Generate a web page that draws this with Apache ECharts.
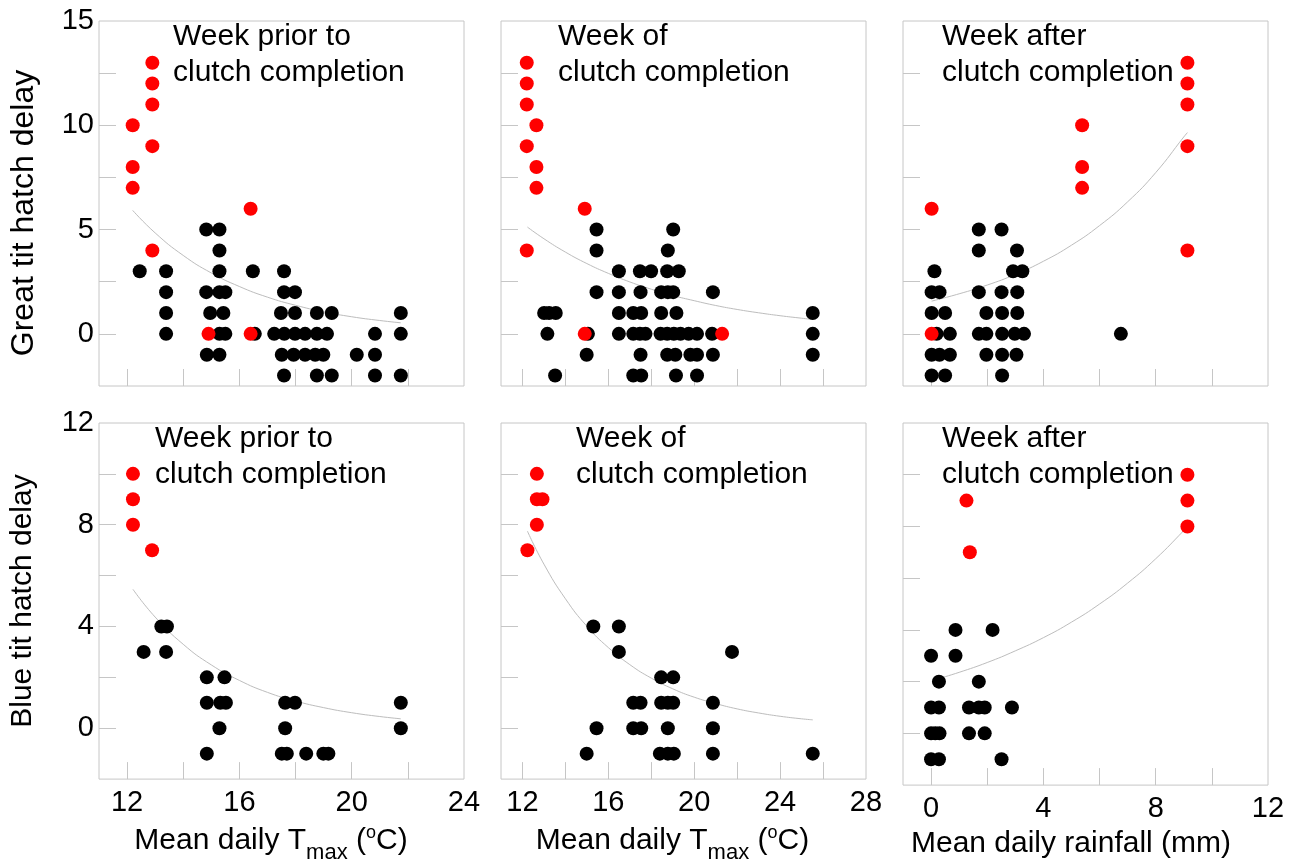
<!DOCTYPE html>
<html><head><meta charset="utf-8">
<script src="https://cdn.jsdelivr.net/npm/echarts@6/dist/echarts.min.js"></script>
<style>html,body{margin:0;padding:0;background:#fff}#c{width:1297px;height:865px}</style>
</head><body><div id="c"></div>
<script>
// ---------- DATA ----------
// Great tit, week prior (x = mean daily Tmax, y = hatch delay)
const gtPriorRed = [[12.9,13],[12.9,12],[12.9,11],[12.2,10],[12.9,9],[12.2,8],[12.2,7],[16.4,6],[12.9,4],[14.9,0],[16.4,0]];
const gtPriorBlack = [
  [14.82,5],[15.29,5],
  [15.29,4],
  [12.45,3],[13.39,3],[15.29,3],[16.48,3],[17.59,3],
  [13.39,2],[14.82,2],[15.29,2],[15.5,2],[17.59,2],[17.98,2],
  [13.39,1],[14.96,1],[15.43,1],[17.48,1],[17.98,1],[18.76,1],[19.29,1],[21.75,1],
  [13.39,0],[15.29,0],[15.5,0],[16.55,0],[17.24,0],[17.6,0],[17.98,0],[18.34,0],[18.76,0],[19.12,0],[20.83,0],[21.75,0],
  [14.84,-1],[15.29,-1],[17.51,-1],[17.93,-1],[18.34,-1],[18.7,-1],[18.99,-1],[20.18,-1],[20.83,-1],
  [17.59,-2],[18.76,-2],[19.29,-2],[20.83,-2],[21.75,-2]
];
const gtPriorFit = [[12.2,5.92],[13,4.84],[14,3.76],[15,2.92],[16,2.27],[17,1.76],[18,1.37],[19,1.06],[20,0.82],[21,0.64],[21.75,0.53]];

// Great tit, week of
const gtOfRed = [[12.2,13],[12.2,12],[12.2,11],[12.65,10],[12.2,9],[12.65,8],[12.65,7],[14.9,6],[12.2,4],[14.9,0],[21.3,0]];
const gtOfBlack = [
  [15.45,5],[19.02,5],
  [15.45,4],[18.77,4],
  [16.49,3],[17.47,3],[17.99,3],[18.74,3],[19.28,3],
  [15.45,2],[16.49,2],[17.5,2],[18.46,2],[18.77,2],[19.02,2],[20.87,2],
  [13.01,1],[13.24,1],[13.55,1],[16.49,1],[17.16,1],[17.53,1],[18.46,1],[19.17,1],[25.52,1],
  [13.16,0],[15.05,0],[16.49,0],[17.16,0],[17.47,0],[17.73,0],[18.43,0],[18.74,0],[19.05,0],[19.36,0],[19.74,0],[20.13,0],[20.83,0],[25.52,0],
  [14.99,-1],[17.5,-1],[18.74,-1],[19.12,-1],[19.82,-1],[20.13,-1],[20.87,-1],[25.52,-1],
  [13.52,-2],[17.16,-2],[17.53,-2],[19.15,-2],[20.13,-2]
];
const gtOfFit = [[12.23,5.12],[13,4.56],[14,3.92],[15,3.37],[16,2.9],[17,2.49],[18,2.14],[19,1.84],[20,1.59],[21,1.36],[22,1.17],[23,1.01],[24,0.87],[25,0.75],[25.52,0.69]];

// Great tit, week after (x = mean daily rainfall)
const gtAfterRed = [[9.13,13],[9.13,12],[9.13,11],[5.38,10],[9.13,9],[5.38,8],[5.38,7],[0.02,6],[9.13,4],[0.02,0]];
const gtAfterBlack = [
  [1.7,5],[2.51,5],
  [1.7,4],[3.06,4],
  [0.12,3],[2.92,3],[3.25,3],
  [0.02,2],[0.3,2],[1.7,2],[2.51,2],[3.07,2],
  [0.02,1],[0.5,1],[1.97,1],[2.53,1],[3.07,1],
  [0.2,0],[0.67,0],[1.7,0],[1.97,0],[2.53,0],[2.98,0],[3.31,0],[6.76,0],
  [0.02,-1],[0.3,-1],[0.67,-1],[1.97,-1],[2.53,-1],[3.04,-1],
  [0.02,-2],[0.5,-2],[2.53,-2]
];
const gtAfterFit = [[0.02,1.57],[1,1.92],[2,2.34],[3,2.85],[4,3.48],[5,4.25],[6,5.19],[7,6.33],[8,7.73],[9,9.44],[9.13,9.65]];

// Blue tit, week prior
const btPriorRed = [[12.21,10],[12.21,9],[12.21,8],[12.89,7]];
const btPriorBlack = [
  [13.22,4],[13.42,4],
  [12.59,3],[13.39,3],
  [14.84,2],[15.47,2],
  [14.84,1],[15.32,1],[15.52,1],[17.63,1],[17.98,1],[21.75,1],
  [15.29,0],[17.63,0],[21.75,0],
  [14.84,-1],[17.51,-1],[17.69,-1],[18.38,-1],[18.99,-1],[19.17,-1]
];
const btPriorFit = [[12.21,5.46],[13,4.37],[14,3.3],[15,2.49],[16,1.88],[17,1.41],[18,1.07],[19,0.81],[20,0.61],[21,0.46],[21.75,0.37]];

// Blue tit, week of
const btOfRed = [[12.67,10],[12.67,9],[12.93,9],[12.67,8],[12.23,7]];
const btOfBlack = [
  [15.3,4],[16.49,4],
  [16.49,3],[21.76,3],
  [18.46,2],[19.02,2],
  [17.16,1],[17.5,1],[18.46,1],[18.77,1],[19.02,1],[20.87,1],
  [15.45,0],[17.16,0],[17.53,0],[18.77,0],[20.87,0],
  [14.99,-1],[18.4,-1],[18.77,-1],[19.05,-1],[20.87,-1],[25.52,-1]
];
const btOfFit = [[12.23,7.75],[13,6.45],[14,5.09],[15,4.01],[16,3.17],[17,2.5],[18,1.97],[19,1.55],[20,1.22],[21,0.97],[22,0.76],[23,0.6],[24,0.47],[25,0.37],[25.52,0.33]];

// Blue tit, week after
const btAfterRed = [[9.13,10],[1.26,9],[9.13,9],[9.13,8],[1.38,7]];
const btAfterBlack = [
  [0.87,4],[2.19,4],
  [0.0,3],[0.87,3],
  [0.28,2],[1.7,2],
  [0.0,1],[0.28,1],[1.35,1],[1.7,1],[1.91,1],[2.88,1],
  [0.0,0],[0.15,0],[0.3,0],[1.35,0],[1.91,0],
  [0.0,-1],[0.28,-1],[2.51,-1]
];
const btAfterFit = [[0.28,2.12],[1,2.36],[2,2.74],[3,3.19],[4,3.7],[5,4.3],[6,5.0],[7,5.81],[8,6.75],[9,7.84],[9.13,8.0]];

// Axis ticks and labels
const tmaxPriorTicks = [12,14,16,18,20,22];
const tmaxPriorLabels = [12,16,20,24];
const tmaxOfTicks = [12,14,16,18,20,22,24,26];
const tmaxOfLabels = [12,16,20,24,28];
const rainTicks = [0,2,4,6,8,10];
const rainLabels = [0,4,8,12];
const gtYTicks = [0,2.5,5,7.5,10,12.5];
const gtYLabels = [0,5,10,15];
const btYTicks = [0,2,4,6,8,10];
const btYLabels = [0,4,8,12];

const panelTitles = ['Week prior to\nclutch completion','Week of\nclutch completion','Week after\nclutch completion'];
const yNames = ['Great tit hatch delay','Blue tit hatch delay'];
const xNames = ['Mean daily T{sub|max} ({sup|o}C)','Mean daily T{sub|max} ({sup|o}C)','Mean daily rainfall (mm)'];

// ---------- BUILD ----------
const FONT = "'Liberation Sans', Arial, Helvetica, sans-serif";
const GRAY = '#c6c6c6';
const colLeft = [99, 501, 903];
const rowTop = [21, 423];
const SIZE = 365;

const xDefs = [
  {min:11, max:24, ticks:tmaxPriorTicks, labels:tmaxPriorLabels, namePad:[0,21,0,0]},
  {min:11, max:28, ticks:tmaxOfTicks, labels:tmaxOfLabels, namePad:[0,22,0,0]},
  {min:-1, max:12, ticks:rainTicks, labels:rainLabels, namePad:[0,29,0,0]}
];
const yDefs = [
  {min:-2.5, max:15, ticks:gtYTicks, labels:gtYLabels, namePad:[0,19,0,0], nameSize:32, nameGap:60},
  {min:-2, max:12, ticks:btYTicks, labels:btYLabels, namePad:[0,0,0,0], nameSize:30, nameGap:61}
];
const panelData = [
  [gtPriorRed, gtPriorBlack, gtPriorFit],
  [gtOfRed, gtOfBlack, gtOfFit],
  [gtAfterRed, gtAfterBlack, gtAfterFit],
  [btPriorRed, btPriorBlack, btPriorFit],
  [btOfRed, btOfBlack, btOfFit],
  [btAfterRed, btAfterBlack, btAfterFit]
];
const titleLeft = [[173,558,942],[155,576,942]];
const titleTop = [19, 421];

const grid = [], xAxis = [], yAxis = [], series = [], title = [];
for (let r = 0; r < 2; r++) {
  for (let c = 0; c < 3; c++) {
    const i = r*3 + c;
    grid.push({left: colLeft[c], top: rowTop[r], width: SIZE, height: SIZE,
      show: true, borderColor: GRAY, borderWidth: 1, containLabel: false});
    const xd = xDefs[c], yd = yDefs[r];
    xAxis.push({
      type: 'value', gridIndex: i, min: xd.min, max: xd.max, position: 'bottom',
      axisLine: {show: false, onZero: false}, splitLine: {show: false},
      axisTick: {show: true, inside: true, length: 17, customValues: xd.ticks, lineStyle: {color: GRAY, width: 1}},
      axisLabel: {show: r === 1, customValues: xd.labels, margin: 9, color: '#000', fontSize: 29, fontFamily: FONT},
      name: r === 1 ? xNames[c] : '', nameLocation: 'middle', nameGap: 37,
      nameTextStyle: {color: '#000', fontSize: 30, fontFamily: FONT, lineHeight: 40, padding: xd.namePad,
        rich: {
          sub: {fontSize: 22, lineHeight: 22, padding: [24,0,0,0], fontFamily: FONT, color: '#000'},
          sup: {fontSize: 18, lineHeight: 18, padding: [0,0,16,0], fontFamily: FONT, color: '#000'}
        }}
    });
    yAxis.push({
      type: 'value', gridIndex: i, min: yd.min, max: yd.max, position: 'left',
      axisLine: {show: false, onZero: false}, splitLine: {show: false},
      axisTick: {show: true, inside: true, length: 17, customValues: yd.ticks, lineStyle: {color: GRAY, width: 1}},
      axisLabel: {show: c === 0, customValues: yd.labels, margin: 5, color: '#000', fontSize: 29, fontFamily: FONT},
      name: c === 0 ? yNames[r] : '', nameLocation: 'middle', nameGap: yd.nameGap,
      nameTextStyle: {color: '#000', fontSize: yd.nameSize, fontFamily: FONT, lineHeight: 30, padding: yd.namePad}
    });
    const [red, black, fit] = panelData[i];
    series.push({type: 'line', xAxisIndex: i, yAxisIndex: i, data: fit, smooth: true, showSymbol: false,
      symbol: 'none', lineStyle: {color: '#bdbdbd', width: 1}, z: 1, silent: true});
    series.push({type: 'scatter', xAxisIndex: i, yAxisIndex: i, data: black, symbol: 'circle', symbolSize: 14,
      itemStyle: {color: '#000', opacity: 1}, z: 2, silent: true});
    series.push({type: 'scatter', xAxisIndex: i, yAxisIndex: i, data: red, symbol: 'circle', symbolSize: 14,
      itemStyle: {color: '#ff0000', opacity: 1}, z: 3, silent: true});
    title.push({text: panelTitles[c], left: titleLeft[r][c], top: titleTop[r], padding: 0,
      textStyle: {color: '#000', fontSize: 30, fontWeight: 'normal', fontFamily: FONT, lineHeight: 36}});
  }
}

const chart = echarts.init(document.getElementById('c'), null, {renderer: 'canvas'});
chart.setOption({animation: false, backgroundColor: '#fff', title, grid, xAxis, yAxis, series});
</script></body></html>
